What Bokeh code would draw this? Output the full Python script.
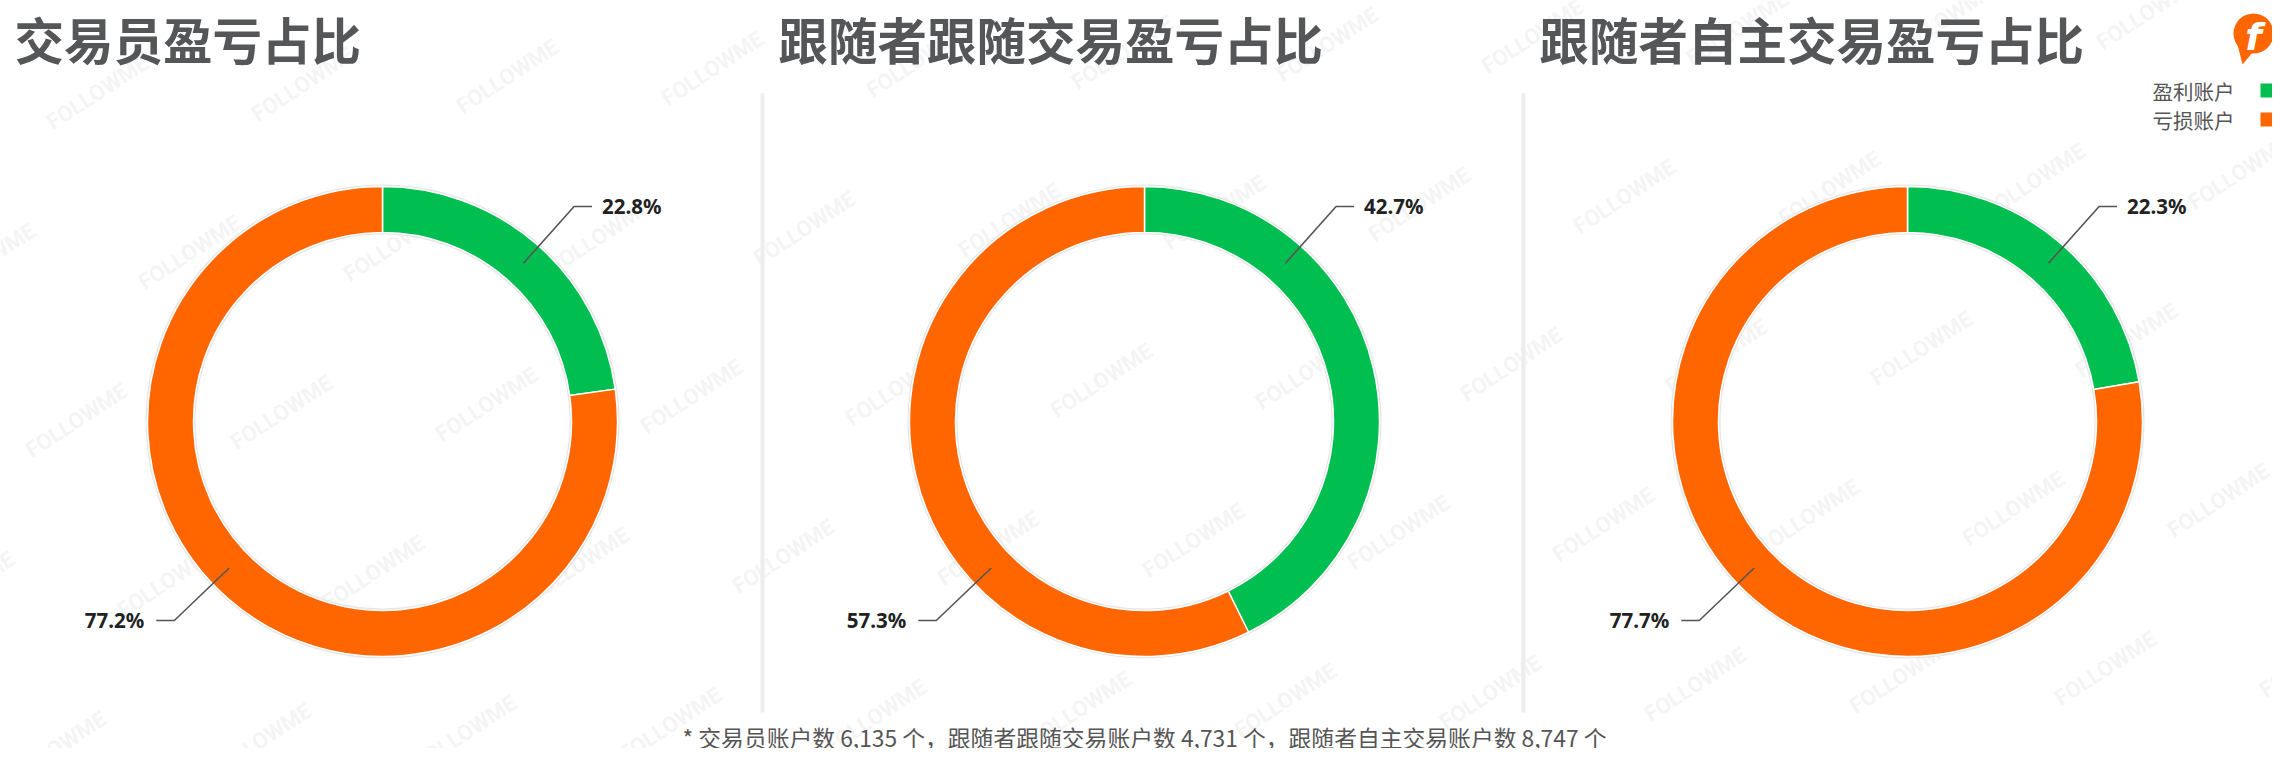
import math
from bokeh.plotting import figure
from bokeh.models import Range1d, ColumnDataSource
from bokeh.core.properties import value
from bokeh.embed import file_html
from bokeh.resources import INLINE

# ---------------- data ----------------
titles = ["交易员盈亏占比", "跟随者跟随交易盈亏占比", "跟随者自主交易盈亏占比"]
categories = ["盈利账户", "亏损账户"]
profit_pct = [22.8, 42.7, 22.3]
loss_pct = [77.2, 57.3, 77.7]
account_names = ["交易员账户数", "跟随者跟随交易账户数", "跟随者自主交易账户数"]
account_counts = [6135, 4731, 8747]
colors = ["#00bf50", "#ff6600"]

# ---------------- layout (page pixels) ----------------
W, H = 2288, 764
def fy(Y):
    return H - Y

centers_x = [382, 1144, 1907]
center_y = 421
R_OUT, R_IN = 235, 189
R_MID = (R_OUT + R_IN) / 2
title_x = [14, 778, 1539]
divider_x = [762, 1523]

CJK = value("Noto Sans CJK SC")
LAT = value("Noto Sans")

p = figure(width=2272, height=748, output_backend="svg", toolbar_location=None,
           x_range=Range1d(0, 2272), y_range=Range1d(16, 764),
           x_axis_location=None, y_axis_location=None, min_border=0,
           outline_line_color=None, background_fill_color="white",
           border_fill_color="white")
p.grid.visible = False

# ---------------- watermark ----------------
wx, wy = [], []
for j in range(-2, 6):
    for i in range(-2, 14):
        X = 97 + i * 205 + j * 92
        Y = 92 - i * 8 + j * 160
        if -60 < X < W + 60 and -40 < Y < H + 40:
            wx.append(X)
            wy.append(fy(Y))
p.text(x=wx, y=wy, text=["FOLLOWME"] * len(wx), angle=math.radians(33),
       text_font=value("Roboto"), text_font_style="bold", text_font_size="22px",
       text_color="#bdbdbd", text_alpha=0.17, text_align="center",
       text_baseline="middle")

# ---------------- titles ----------------
p.text(x=title_x, y=[fy(38)] * 3, text=titles, text_font=CJK,
       text_font_style="bold", text_font_size="49.5px", text_color="#555658",
       text_align="left", text_baseline="middle")

# ---------------- dividers ----------------
p.segment(x0=divider_x, y0=[fy(93)] * 2, x1=divider_x, y1=[fy(712)] * 2,
          line_color="#ededed", line_width=4)

# ---------------- donuts ----------------
xs, ys, sa, ea, fc = [], [], [], [], []
for k in range(3):
    vals = [profit_pct[k], loss_pct[k]]
    tot = sum(vals)
    a = math.pi / 2
    for c, v in enumerate(vals):
        b = a - 2 * math.pi * v / tot
        xs.append(centers_x[k]); ys.append(fy(center_y))
        sa.append(a); ea.append(b); fc.append(colors[c])
        a = b
src = ColumnDataSource(dict(x=xs, y=ys, start=sa, end=ea, color=fc))

# light grey halo
p.annular_wedge(x=centers_x, y=[fy(center_y)] * 3, inner_radius=R_IN - 2,
                outer_radius=R_OUT + 2, start_angle=0, end_angle=2 * math.pi,
                fill_color="#e6e6e6", line_color=None)
p.annular_wedge(x="x", y="y", inner_radius=R_IN, outer_radius=R_OUT,
                start_angle="start", end_angle="end", direction="clock",
                fill_color="color", line_color="white", line_width=1.5,
                source=src)

# ---------------- labels ----------------
TH_UP, TH_LO = math.radians(41.7), math.radians(226.3)
R_ELB = 288
lx, ly = [], []
ux, uy, ut = [], [], []
dx_, dy_, dt = [], [], []
for k in range(3):
    cx, cy = centers_x[k], center_y
    for th, v, side in [(TH_UP, profit_pct[k], 1), (TH_LO, loss_pct[k], -1)]:
        sx, sy = cx + R_MID * math.sin(th), cy - R_MID * math.cos(th)
        ex, ey = cx + R_ELB * math.sin(th), cy - R_ELB * math.cos(th)
        hx = ex + side * 18
        lx.append([sx, ex, hx]); ly.append([fy(sy), fy(ey), fy(ey)])
        if side == 1:
            ux.append(hx + 10); uy.append(fy(ey)); ut.append(f"{v:.1f}%")
        else:
            dx_.append(hx - 12); dy_.append(fy(ey)); dt.append(f"{v:.1f}%")
p.multi_line(xs=lx, ys=ly, line_color="#555555", line_width=1.6)
p.text(x=ux, y=uy, text=ut, text_font=LAT, text_font_style="bold",
       text_font_size="20.5px", text_color="#222222", text_align="left",
       text_baseline="middle")
p.text(x=dx_, y=dy_, text=dt, text_font=LAT, text_font_style="bold",
       text_font_size="20.5px", text_color="#222222", text_align="right",
       text_baseline="middle")

# ---------------- legend ----------------
leg_y = [90, 119]
p.text(x=[2152] * 2, y=[fy(v) for v in leg_y], text=categories, text_font=CJK,
       text_font_size="20.5px", text_color="#555555", text_align="left",
       text_baseline="middle")
p.rect(x=[2266.5] * 2, y=[fy(v) for v in leg_y], width=13, height=14,
       fill_color=colors, line_color=None)

# ---------------- logo ----------------
p.patch(x=[2237, 2252, 2242], y=[fy(44), fy(52), fy(64)],
        fill_color="#ff6600", line_color=None)
p.circle(x=[2253], y=[fy(33)], radius=20, fill_color="#ff6600", line_color=None)
p.text(x=[2253], y=[fy(36)], text=["f"], text_font=value("DejaVu Sans"),
       text_font_style="bold italic", text_font_size="38px",
       text_color="white", text_align="center", text_baseline="middle")

# ---------------- footnote ----------------
note = "* " + "，".join(f"{n} {c:,} 个" for n, c in zip(account_names, account_counts))
p.text(x=[1144], y=[fy(737)], text=[note], text_font=CJK, text_font_size="22.8px",
       text_color="#555555", text_align="center", text_baseline="middle")

open("out.html", "w").write(file_html(p, INLINE))
